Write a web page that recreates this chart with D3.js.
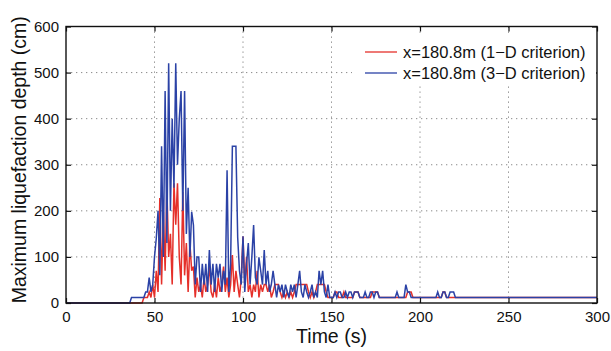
<!DOCTYPE html>
<html>
<head>
<meta charset="utf-8">
<script src="https://cdn.jsdelivr.net/npm/d3@7"></script>
<style>
  body { margin: 0; background: #fff; }
  svg { display: block; font-family: "Liberation Sans", Arial, Helvetica, sans-serif; }
</style>
</head>
<body>
<div id="chart"></div>
<script>
// samples every 1 s starting at t0, depth in cm
const t0 = 35;
const tEnd = 300;
const seriesLabels = ['x=180.8m (1\u2212D criterion)', 'x=180.8m (3\u2212D criterion)'];
const seriesColors = ['#e5302a', '#2b42a6'];

const redDepth = [
  0, 0, 0, 0, 0, 0, 0, 0, 0, 12, 12, 12, 24, 12, 40,
  12, 70, 24, 228, 40, 198, 70, 250, 100, 150,
  40, 260, 170, 260, 100, 40, 241, 60, 130, 24,
  130, 70, 79, 12, 55, 24, 40, 12, 55, 24,
  40, 79, 24, 12, 40, 12, 55, 24, 40, 79,
  24, 55, 12, 40, 104, 24, 70, 40, 12, 55,
  144, 40, 100, 24, 40, 12, 40, 24, 70, 12,
  40, 24, 40, 40, 24, 40, 12, 24, 40, 40,
  40, 24, 12, 24, 12, 24, 12, 24, 12, 24,
  40, 40, 40, 40, 40, 40, 40, 24, 12, 24,
  12, 24, 40, 40, 40, 40, 40, 24, 12, 12,
  12, 12, 24, 24, 12, 12, 12, 24, 12, 12,
  12, 12, 12, 24, 24, 24, 12, 12, 12, 12,
  12, 12, 12, 24, 24, 24, 24, 12, 12, 12,
  12, 12, 12, 12, 12, 12, 12, 12, 12, 12,
  12, 12, 12, 24, 24, 24, 12, 12, 12, 12,
  12, 12, 12, 12, 12, 12, 12, 12, 12, 12,
  12, 12, 12, 24, 24, 12, 12, 12, 12, 12,
  12
];

const blueDepth = [
  0, 0, 12, 12, 12, 12, 12, 12, 12, 12, 24, 24, 55, 24, 40,
  100, 140, 200, 60, 340, 100, 460, 130, 520, 200,
  400, 250, 520, 300, 400, 460, 200, 460, 150, 250,
  100, 198, 169, 40, 100, 100, 24, 85, 40, 85,
  24, 115, 40, 85, 24, 85, 55, 85, 24, 70,
  40, 288, 24, 85, 340, 340, 340, 142, 70, 40,
  145, 24, 85, 130, 40, 100, 169, 55, 40, 99,
  70, 40, 115, 40, 70, 24, 40, 70, 40, 12,
  40, 24, 40, 12, 40, 24, 12, 40, 24, 40,
  12, 40, 70, 24, 12, 40, 24, 12, 24, 40,
  12, 24, 12, 70, 40, 70, 24, 12, 40, 12,
  12, 12, 24, 12, 24, 24, 12, 12, 24, 12,
  24, 24, 12, 24, 24, 24, 12, 12, 12, 24,
  12, 12, 24, 24, 12, 24, 24, 12, 12, 12,
  12, 12, 12, 12, 12, 12, 12, 24, 12, 12,
  12, 12, 40, 24, 24, 12, 12, 12, 12, 12,
  12, 12, 12, 12, 12, 12, 12, 12, 12, 12,
  24, 12, 12, 24, 24, 12, 12, 24, 24, 24,
  12
];

const xTicks = [0, 50, 100, 150, 200, 250, 300];
const yTicks = [0, 100, 200, 300, 400, 500, 600];

const width = 611, height = 351;
const margin = { left: 66, right: 14, top: 26.5, bottom: 48 };
const plotW = width - margin.left - margin.right;
const plotH = height - margin.top - margin.bottom;

const svg = d3.select('#chart').append('svg')
  .attr('width', width)
  .attr('height', height);

const g = svg.append('g')
  .attr('transform', `translate(${margin.left},${margin.top})`);

const x = d3.scaleLinear().domain([0, 300]).range([0, plotW]);
const y = d3.scaleLinear().domain([0, 600]).range([plotH, 0]);

// dotted grid
g.append('g').selectAll('line')
  .data(xTicks.slice(1, -1))
  .enter().append('line')
  .attr('x1', d => x(d)).attr('x2', d => x(d))
  .attr('y1', 0).attr('y2', plotH)
  .attr('stroke', '#8a8a8a').attr('stroke-width', 1)
  .attr('stroke-dasharray', '1.3,3.7');
g.append('g').selectAll('line')
  .data(yTicks.slice(1, -1))
  .enter().append('line')
  .attr('x1', 0).attr('x2', plotW)
  .attr('y1', d => y(d)).attr('y2', d => y(d))
  .attr('stroke', '#8a8a8a').attr('stroke-width', 1)
  .attr('stroke-dasharray', '1.3,3.7');

// build point list: flat from t=0, samples, then hold last value to tEnd
function toPoints(arr) {
  const pts = [[0, arr[0]]];
  arr.forEach((v, i) => pts.push([t0 + i, v]));
  pts.push([tEnd, arr[arr.length - 1]]);
  return pts;
}

const line = d3.line()
  .x(d => x(d[0]))
  .y(d => y(d[1]));

[redDepth, blueDepth].forEach((arr, i) => {
  g.append('path')
    .datum(toPoints(arr))
    .attr('d', line)
    .attr('fill', 'none')
    .attr('stroke', seriesColors[i])
    .attr('stroke-width', 1.5);
});

// axes, ticks pointing inward
const tickFont = '15px';
const xAxis = g.append('g')
  .attr('transform', `translate(0,${plotH})`)
  .call(d3.axisBottom(x).tickValues(xTicks).tickSizeInner(-5).tickSizeOuter(0).tickPadding(8));
const yAxis = g.append('g')
  .call(d3.axisLeft(y).tickValues(yTicks).tickSizeInner(-5).tickSizeOuter(0).tickPadding(7));
const xTop = g.append('g')
  .call(d3.axisTop(x).tickValues(xTicks).tickSizeInner(-5).tickSizeOuter(0).tickFormat(''));
const yRight = g.append('g')
  .attr('transform', `translate(${plotW},0)`)
  .call(d3.axisRight(y).tickValues(yTicks).tickSizeInner(-5).tickSizeOuter(0).tickFormat(''));

[xAxis, yAxis, xTop, yRight].forEach(a => {
  a.select('.domain').remove();
  a.selectAll('line').attr('stroke', '#111').attr('stroke-width', 1.2);
  a.selectAll('text').attr('font-size', tickFont).attr('fill', '#111')
    .attr('font-family', '"Liberation Sans", Arial, sans-serif');
});

// legend (white box, no border)
const lg = g.append('g').attr('transform', `translate(${x(0) + 286},9)`);
lg.append('rect')
  .attr('x', 0).attr('y', 0)
  .attr('width', plotW - 287).attr('height', 50)
  .attr('fill', '#fff');
seriesLabels.forEach((lab, i) => {
  const yy = 16.5 + i * 21;
  lg.append('line')
    .attr('x1', 13).attr('x2', 45)
    .attr('y1', yy).attr('y2', yy)
    .attr('stroke', seriesColors[i]).attr('stroke-width', 1.3);
  lg.append('text')
    .attr('x', 51).attr('y', yy)
    .attr('dy', '0.36em')
    .attr('font-size', '16.5px')
    .attr('fill', '#111')
    .text(lab);
});

// frame
g.append('rect')
  .attr('x', 0).attr('y', 0)
  .attr('width', plotW).attr('height', plotH)
  .attr('fill', 'none')
  .attr('stroke', '#111').attr('stroke-width', 1.4);

// axis titles
svg.append('text')
  .attr('x', margin.left + plotW / 2)
  .attr('y', 343)
  .attr('text-anchor', 'middle')
  .attr('font-size', '19.5px')
  .attr('fill', '#111')
  .text('Time  (s)');
svg.append('text')
  .attr('transform', `translate(26,${margin.top + plotH / 2 - 5}) rotate(-90)`)
  .attr('text-anchor', 'middle')
  .attr('font-size', '19.5px')
  .attr('fill', '#111')
  .text('Maximum liquefaction depth  (cm)');
</script>
</body>
</html>
